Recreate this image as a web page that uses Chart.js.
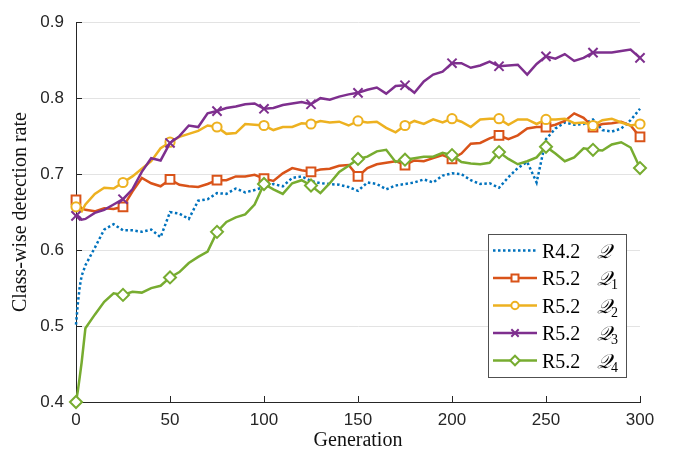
<!DOCTYPE html>
<html>
<head>
<meta charset="utf-8">
<script src="https://cdn.jsdelivr.net/npm/chart.js@4.4.1/dist/chart.umd.min.js"></script>
<style>
  html, body { margin: 0; padding: 0; background: #fff; }
  #wrap { width: 676px; height: 457px; }
</style>
</head>
<body>
<div id="wrap"><canvas id="chart"></canvas></div>
<script>
// Generation (x axis)
const gens = [0, 1, 2, 3, 5, 10, 15, 20, 25, 30, 35, 40, 45, 50, 55, 60, 65, 70, 75, 80, 85, 90, 95, 100,
  105, 110, 115, 120, 125, 130, 135, 140, 145, 150, 155, 160, 165, 170, 175, 180, 185, 190, 195, 200,
  205, 210, 215, 220, 225, 230, 235, 240, 245, 250, 255, 260, 265, 270, 275, 280, 285, 290, 295, 300];

// R4.2 Q
const r42q = [0.502, 0.530, 0.552, 0.566, 0.580, 0.603, 0.627, 0.634, 0.626, 0.626, 0.624, 0.627, 0.617, 0.650,
  0.648, 0.641, 0.665, 0.667, 0.675, 0.674, 0.681, 0.676, 0.679, 0.683, 0.687, 0.684, 0.695, 0.697, 0.691,
  0.688, 0.687, 0.686, 0.683, 0.678, 0.689, 0.687, 0.680, 0.685, 0.687, 0.689, 0.693, 0.689, 0.698, 0.701,
  0.700, 0.692, 0.687, 0.688, 0.682, 0.696, 0.708, 0.716, 0.689, 0.746, 0.760, 0.768, 0.765, 0.766, 0.772,
  0.758, 0.756, 0.760, 0.771, 0.786];
// R5.2 Q1
const r52q1 = [0.666, 0.662, 0.658, 0.655, 0.653, 0.651, 0.655, 0.654, 0.657, 0.677, 0.695, 0.688, 0.684, 0.693,
  0.686, 0.684, 0.683, 0.687, 0.692, 0.692, 0.697, 0.697, 0.699, 0.694, 0.691, 0.701, 0.708, 0.705, 0.703,
  0.706, 0.707, 0.711, 0.712, 0.697, 0.708, 0.713, 0.715, 0.717, 0.712, 0.718, 0.717, 0.721, 0.725, 0.720,
  0.727, 0.740, 0.741, 0.747, 0.751, 0.746, 0.751, 0.760, 0.762, 0.762, 0.765, 0.770, 0.780, 0.774, 0.762,
  0.766, 0.767, 0.769, 0.764, 0.749];
// R5.2 Q2
const r52q2 = [0.657, 0.655, 0.652, 0.651, 0.660, 0.674, 0.682, 0.681, 0.689, 0.697, 0.707, 0.717, 0.734, 0.742,
  0.749, 0.753, 0.757, 0.764, 0.762, 0.753, 0.754, 0.766, 0.765, 0.764, 0.758, 0.762, 0.762, 0.767, 0.766,
  0.770, 0.768, 0.769, 0.764, 0.770, 0.768, 0.769, 0.761, 0.755, 0.764, 0.770, 0.766, 0.772, 0.768, 0.773,
  0.769, 0.762, 0.772, 0.773, 0.773, 0.765, 0.772, 0.772, 0.766, 0.772, 0.772, 0.773, 0.767, 0.768, 0.764,
  0.771, 0.773, 0.768, 0.764, 0.766];
// R5.2 Q3
const r52q3 = [0.645, 0.645, 0.643, 0.640, 0.641, 0.649, 0.653, 0.660, 0.667, 0.680, 0.703, 0.721, 0.718, 0.741,
  0.750, 0.764, 0.762, 0.780, 0.783, 0.787, 0.789, 0.792, 0.793, 0.786, 0.787, 0.791, 0.793, 0.795, 0.792,
  0.800, 0.798, 0.802, 0.805, 0.807, 0.811, 0.814, 0.806, 0.816, 0.817, 0.807, 0.822, 0.831, 0.835, 0.846,
  0.846, 0.840, 0.843, 0.848, 0.842, 0.843, 0.844, 0.831, 0.845, 0.855, 0.852, 0.858, 0.849, 0.853, 0.860,
  0.860, 0.860, 0.862, 0.864, 0.853];
// R5.2 Q4
const r52q4 = [0.400, 0.415, 0.433, 0.452, 0.497, 0.515, 0.532, 0.543, 0.541, 0.545, 0.544, 0.550, 0.553, 0.564,
  0.571, 0.583, 0.591, 0.598, 0.624, 0.637, 0.643, 0.647, 0.660, 0.687, 0.680, 0.674, 0.688, 0.692, 0.685,
  0.675, 0.688, 0.703, 0.711, 0.720, 0.723, 0.730, 0.732, 0.716, 0.719, 0.721, 0.723, 0.723, 0.728, 0.725,
  0.716, 0.714, 0.713, 0.715, 0.729, 0.720, 0.713, 0.717, 0.722, 0.736, 0.727, 0.717, 0.722, 0.734, 0.732,
  0.731, 0.739, 0.742, 0.735, 0.708];

const yTicks = [0.4, 0.5, 0.6, 0.7, 0.8, 0.9];
const xTicks = [0, 50, 100, 150, 200, 250, 300];

const axisColor = "#262626";
const serif = '"Liberation Serif", "Times New Roman", serif';
const sans = '"Liberation Sans", Arial, sans-serif';

// Stil för varje serie (markör var 25:e generation)
const series = [
  { label: "R4.2", sub: "", values: r42q, color: "#0072BD", dash: [2.5, 2.5], style: false, radius: 0 },
  { label: "R5.2", sub: "1", values: r52q1, color: "#D95319", dash: [], style: "rect", radius: 6.2 },
  { label: "R5.2", sub: "2", values: r52q2, color: "#EDB120", dash: [], style: "circle", radius: 4.6 },
  { label: "R5.2", sub: "3", values: r52q3, color: "#7E2F8E", dash: [], style: "crossRot", radius: 6.5 },
  { label: "R5.2", sub: "4", values: r52q4, color: "#77AC30", dash: [], style: "rectRot", radius: 6 },
];

const datasets = series.map((s, i) => ({
  label: s.label + " Q" + s.sub,
  data: gens.map((g, j) => ({ x: g, y: s.values[j] })),
  borderColor: s.color,
  borderWidth: 2.5,
  borderDash: s.dash,
  pointStyle: s.style,
  pointRadius: (ctx) => (s.radius && gens[ctx.dataIndex] % 25 === 0 ? s.radius : 0),
  pointBorderColor: s.color,
  pointBackgroundColor: "#ffffff",
  pointBorderWidth: 2,
  tension: 0,
  clip: false,
  order: series.length - i,
}));

// Små tickmarkeringar inåt, som i originalet
const innerTicks = {
  id: "innerTicks",
  beforeDatasetsDraw(chart) {
    const { ctx, chartArea: a, scales } = chart;
    ctx.save();
    ctx.strokeStyle = axisColor;
    ctx.lineWidth = 1;
    xTicks.forEach((v) => {
      const px = Math.round(scales.x.getPixelForValue(v)) + 0.5;
      ctx.beginPath();
      ctx.moveTo(px, a.bottom);
      ctx.lineTo(px, a.bottom - 6);
      ctx.stroke();
    });
    yTicks.forEach((v) => {
      const py = Math.round(scales.y.getPixelForValue(v)) + 0.5;
      ctx.beginPath();
      ctx.moveTo(a.left, py);
      ctx.lineTo(a.left + 6, py);
      ctx.stroke();
    });
    ctx.restore();
  },
};

// Egen legend nere till höger i plotytan
const boxLegend = {
  id: "boxLegend",
  afterDraw(chart) {
    const ctx = chart.ctx;
    const box = { x: 488.5, y: 234.5, w: 138, h: 143 };
    ctx.save();
    ctx.fillStyle = "#ffffff";
    ctx.fillRect(box.x, box.y, box.w, box.h);
    ctx.strokeStyle = "#505050";
    ctx.lineWidth = 1;
    ctx.strokeRect(box.x, box.y, box.w, box.h);
    series.forEach((s, i) => {
      const cy = 250.5 + i * 27.5;
      ctx.save();
      ctx.strokeStyle = s.color;
      ctx.lineWidth = 2.5;
      ctx.setLineDash(s.dash);
      ctx.beginPath();
      ctx.moveTo(493, cy);
      ctx.lineTo(537, cy);
      ctx.stroke();
      ctx.restore();
      if (s.style) {
        ctx.fillStyle = "#ffffff";
        ctx.strokeStyle = s.color;
        ctx.lineWidth = 2;
        Chart.helpers.drawPoint(ctx, { pointStyle: s.style, radius: s.radius * 0.8, rotation: 0, borderWidth: 2 }, 515, cy);
      }
      ctx.fillStyle = "#000000";
      ctx.textBaseline = "alphabetic";
      ctx.font = "20px " + serif;
      ctx.fillText(s.label, 542, cy + 7);
      ctx.font = "italic 20px " + serif;
      ctx.fillText("𝒬", 597, cy + 7);
      if (s.sub) {
        ctx.font = "14px " + serif;
        ctx.fillText(s.sub, 611, cy + 11);
      }
    });
    ctx.restore();
  },
};

new Chart(document.getElementById("chart"), {
  type: "line",
  data: { datasets },
  options: {
    responsive: true,
    maintainAspectRatio: false,
    animation: false,
    devicePixelRatio: 1,
    layout: { padding: { top: 10, right: 36, left: 0, bottom: 0 } },
    plugins: { legend: { display: false }, tooltip: { enabled: false } },
    scales: {
      x: {
        type: "linear",
        min: 0,
        max: 300,
        afterBuildTicks: (scale) => { scale.ticks = xTicks.map((v) => ({ value: v })); },
        afterFit: (scale) => { scale.height = 55; },
        ticks: { color: axisColor, font: { family: sans, size: 17 }, padding: 8, maxRotation: 0 },
        grid: { display: false, drawTicks: false },
        border: { display: true, color: axisColor, width: 1 },
        title: { display: true, text: "Generation", color: "#111", font: { family: serif, size: 20 }, padding: { top: 0, bottom: 4 } },
      },
      y: {
        min: 0.4,
        max: 0.9,
        afterBuildTicks: (scale) => { scale.ticks = yTicks.map((v) => ({ value: v })); },
        afterFit: (scale) => { scale.width = 76; },
        ticks: { color: axisColor, font: { family: sans, size: 17 }, padding: 12, callback: (v) => v.toFixed(1) },
        grid: { color: "#e3e3e3", lineWidth: 1, drawTicks: false },
        border: { display: true, color: axisColor, width: 1 },
        title: { display: true, text: "Class-wise detection rate", color: "#111", font: { family: serif, size: 20 }, padding: { top: 9 } },
      },
    },
  },
  plugins: [innerTicks, boxLegend],
});
</script>
</body>
</html>
